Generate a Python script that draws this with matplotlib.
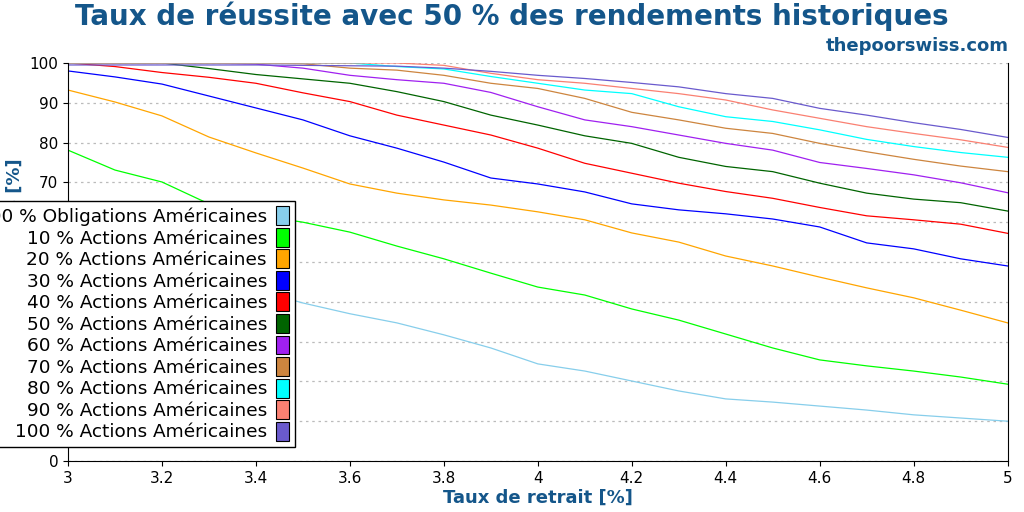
import matplotlib
matplotlib.use("Agg")
import matplotlib.pyplot as plt
from matplotlib.patches import Patch

rates = [3.0, 3.1, 3.2, 3.3, 3.4, 3.5, 3.6, 3.7, 3.8, 3.9, 4.0,
         4.1, 4.2, 4.3, 4.4, 4.5, 4.6, 4.7, 4.8, 4.9, 5.0]

bonds = [58, 54, 50, 47, 43, 39.7, 37, 34.7, 31.7, 28.4, 24.4,
         22.6, 20.1, 17.6, 15.6, 14.8, 13.8, 12.8, 11.6, 10.8, 10.0]
s10 = [78.1, 73.1, 70.1, 64.6, 61.8, 60, 57.5, 54, 50.8, 47.2, 43.7,
       41.7, 38.2, 35.4, 31.9, 28.4, 25.4, 23.9, 22.6, 21.1, 19.3]
s20 = [93.2, 90.2, 86.7, 81.4, 77.4, 73.6, 69.6, 67.3, 65.6, 64.3, 62.6,
       60.6, 57.3, 55, 51.5, 49, 46.2, 43.5, 41, 37.9, 34.7]
s30 = [98, 96.5, 94.7, 91.7, 88.7, 85.7, 81.7, 78.6, 75.1, 71.1, 69.6,
       67.6, 64.6, 63.1, 62.1, 60.8, 58.8, 54.8, 53.3, 50.8, 49]
s40 = [100, 99.1, 97.6, 96.4, 94.9, 92.5, 90.3, 86.9, 84.4, 81.9, 78.6,
       74.8, 72.3, 69.8, 67.7, 66, 63.7, 61.6, 60.6, 59.5, 57.2]
s50 = [100, 100, 100, 98.6, 97.1, 96, 94.9, 92.8, 90.3, 86.9, 84.4,
       81.7, 79.8, 76.3, 74, 72.7, 69.8, 67.3, 65.8, 64.9, 62.8]
s60 = [100, 100, 100, 100, 99.7, 98.7, 96.9, 95.8, 94.9, 92.6, 89,
       85.7, 84, 81.9, 79.8, 78.1, 75, 73.5, 71.9, 69.9, 67.4]
s70 = [100, 100, 100, 100, 100, 99.8, 98.7, 98.2, 96.9, 94.9, 93.6,
       91.1, 87.6, 85.7, 83.6, 82.3, 79.8, 77.7, 75.8, 74.1, 72.7]
s80 = [100, 100, 100, 100, 100, 100, 100, 99.1, 98.5, 96.6, 94.9,
       93.2, 92.3, 89, 86.5, 85.3, 83.2, 80.8, 79, 77.5, 76.3]
s90 = [100, 100, 100, 100, 100, 100, 100, 100, 99.4, 97.4, 95.8,
       94.9, 93.6, 92.3, 90.7, 88.2, 86.1, 84, 82.3, 80.7, 78.8]
s100 = [99.5, 99.5, 99.5, 99.5, 99.5, 99.4, 99.3, 99.2, 98.7, 97.9, 96.9,
        96.1, 95.1, 94, 92.3, 91.1, 88.6, 86.9, 85, 83.3, 81.3]

series = [bonds, s10, s20, s30, s40, s50, s60, s70, s80, s90, s100]
labels = ["100 % Obligations Américaines"] + \
    [f"{p} % Actions Américaines" for p in range(10, 101, 10)]
colors = ["skyblue", "lime", "orange", "blue", "red", "darkgreen",
          "#a020f0", "peru", "cyan", "salmon", "slateblue"]

title_color = "#14568a"

fig = plt.figure(figsize=(10.24, 5.12), dpi=100)
ax = fig.add_axes([0.0664, 0.0996, 0.9176, 0.7774])

for vals, c in zip(series, colors):
    ax.plot(rates, vals, color=c, linewidth=0.9)

ax.set_xlim(3, 5)
ax.set_ylim(0, 100)
ax.set_yticks(range(0, 101, 10))
ax.set_xticks([3, 3.2, 3.4, 3.6, 3.8, 4, 4.2, 4.4, 4.6, 4.8, 5])
ax.set_xticklabels(["3", "3.2", "3.4", "3.6", "3.8", "4", "4.2", "4.4", "4.6", "4.8", "5"])
ax.tick_params(labelsize=11)
ax.yaxis.grid(True, linestyle=(0, (2, 3)), color="#bbbbbb", linewidth=0.9)
ax.spines["top"].set_visible(False)

ax.set_xlabel("Taux de retrait [%]", fontsize=13, fontweight="bold", color=title_color, labelpad=2)
ax.set_ylabel("Taux de réussite [%]", fontsize=13, fontweight="bold", color=title_color)

handles = [Patch(facecolor=c, edgecolor="black", linewidth=0.8) for c in colors]
leg = ax.legend(handles, labels, loc="lower right", bbox_to_anchor=(0.251, 0.012),
                markerfirst=False, fontsize=13.3, frameon=True, fancybox=False,
                edgecolor="black", framealpha=1, handlelength=0.7, handleheight=1.2,
                handletextpad=0.5, labelspacing=0.1, borderpad=0.3)
leg.set_zorder(10)
leg.set_clip_on(False)
for t in leg.get_texts():
    t.set_ha("right")

fig.text(0.5, 0.968, "Taux de réussite avec 50 % des rendements historiques",
         ha="center", va="center", fontsize=20, fontweight="bold", color=title_color)
fig.text(0.985, 0.91, "thepoorswiss.com", ha="right", va="center",
         fontsize=13, fontweight="bold", color=title_color)

fig.savefig("out.png", dpi=100)
